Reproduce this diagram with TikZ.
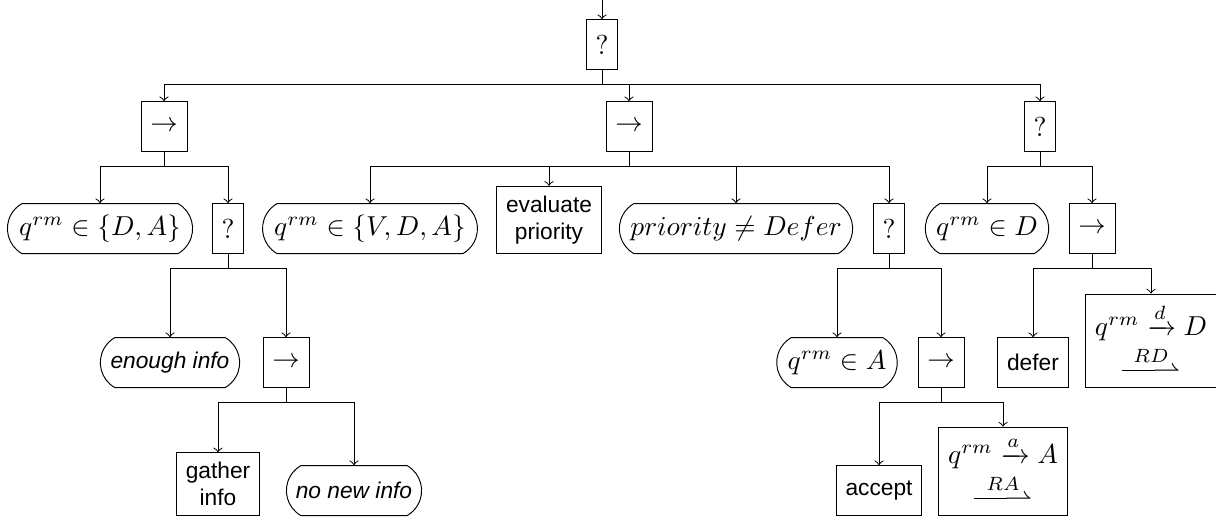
\documentclass[tikz,border=0pt]{standalone}
\usepackage{mathtools}
\usepackage{fontspec}
\setsansfont{Liberation Sans}
\usetikzlibrary{shapes.misc}
\newcommand\bsf{\fontsize{8.3}{10}\selectfont\sffamily}
\newcommand\harp[1]{\mathrel{\overset{#1}{\rule[2.3pt]{12pt}{0.4pt}\mkern-6mu\rightharpoonup}}}
\begin{document}
\begin{tikzpicture}[x=0.365pt,y=-0.365pt, line width=0.35pt,
  bx/.style={draw, rectangle, minimum height=18.2pt, inner sep=3.4pt, align=center},
  cnd/.style={draw, rounded rectangle, rounded rectangle arc length=120, minimum height=18.2pt, inner xsep=3pt, inner ysep=3.4pt},
  lk/.style={->},
]
\useasboundingbox (0,0) rectangle (1216,521);
\coordinate (top) at (602,0);
\node[bx,anchor=south] (root) at (602,70) {?};
% level 1
\node[bx,anchor=south] (lseq) at (164,152) {$\rightarrow$};
\node[bx,anchor=south] (mseq) at (629,152) {$\rightarrow$};
\node[bx,anchor=south] (rsel) at (1040,152) {?};
% level 2
\node[cnd,anchor=south] (qDA) at (100,254) {$q^{rm} \in \{D, A\}$};
\node[bx,anchor=south] (lsel) at (228,254) {?};
\node[cnd,anchor=south] (qVDA) at (370,254) {$q^{rm} \in \{V, D, A\}$};
\node[bx,anchor=south,font=\bsf] (eval) at (549,254) {evaluate\\priority};
\node[cnd,anchor=south] (prio) at (736,254) {$priority \neq Defer$};
\node[bx,anchor=south] (msel) at (889,254) {?};
\node[cnd,anchor=south] (qD) at (987,254) {$q^{rm} \in D$};
\node[bx,anchor=south] (rseq) at (1092,254) {$\rightarrow$};
% level 3
\node[cnd,anchor=south,font=\bsf\itshape] (enough) at (170,388) {enough info};
\node[bx,anchor=south] (lseq2) at (286,388) {$\rightarrow$};
\node[cnd,anchor=south] (qA) at (837,388) {$q^{rm} \in A$};
\node[bx,anchor=south] (mseq2) at (941,388) {$\rightarrow$};
\node[bx,anchor=south,font=\bsf] (defer) at (1033,388) {defer};
\node[bx,anchor=south,inner sep=3.6pt] (qtoD) at (1151,388) {$q^{rm} \xrightarrow{d} D$\\[1pt]$\harp{RD}$};
% level 4
\node[bx,anchor=south,font=\bsf] (gather) at (218,516) {gather\\info};
\node[cnd,anchor=south,font=\bsf\itshape] (nonew) at (354,516) {no new info};
\node[bx,anchor=south,font=\bsf] (accept) at (879,516) {accept};
\node[bx,anchor=south,inner sep=3.6pt] (qtoA) at (1003,516) {$q^{rm} \xrightarrow{a} A$\\[1pt]$\harp{RA}$};
% connectors
\draw[lk] (top) -- (root.north);
\foreach \p/\a/\b in {root/lseq/rsel, lseq/qDA/lsel, mseq/qVDA/msel,
  rsel/qD/rseq, lsel/enough/lseq2, msel/qA/mseq2, rseq/defer/qtoD,
  lseq2/gather/nonew, mseq2/accept/qtoA}
  \draw (\p.south) -- ++(0,14) coordinate (b\p)
        (b\p -| \a.north) -- (b\p -| \b.north);
\foreach \p/\c in {root/lseq, root/mseq, root/rsel,
  lseq/qDA, lseq/lsel, mseq/qVDA, mseq/eval, mseq/prio, mseq/msel,
  rsel/qD, rsel/rseq, lsel/enough, lsel/lseq2, msel/qA, msel/mseq2,
  rseq/defer, rseq/qtoD, lseq2/gather, lseq2/nonew, mseq2/accept, mseq2/qtoA}
  \draw[lk] (b\p -| \c.north) -- (\c.north);
\end{tikzpicture}
\end{document}
